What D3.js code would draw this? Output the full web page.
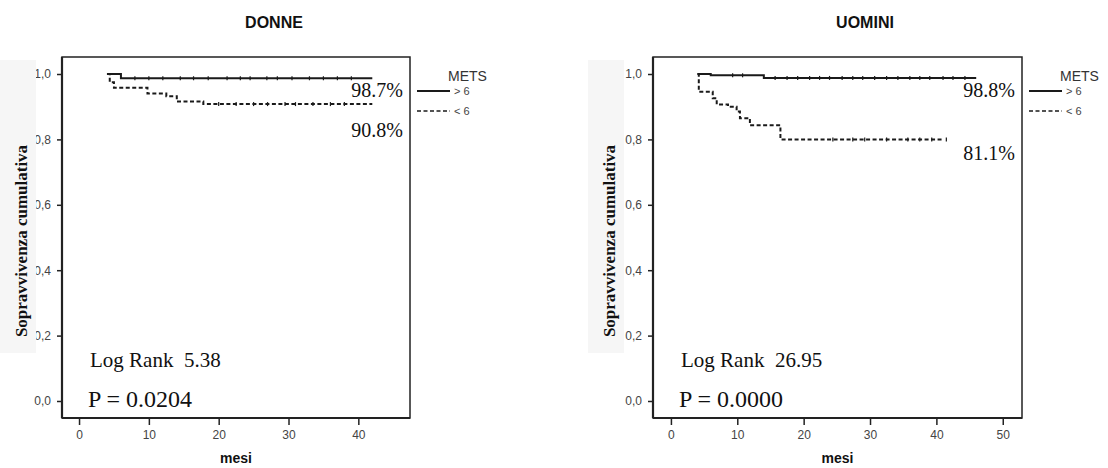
<!DOCTYPE html>
<html>
<head>
<meta charset="utf-8">
<script src="https://cdn.jsdelivr.net/npm/d3@7"></script>
<style>
  body { margin: 0; background: #fff; }
  svg { display: block; }
</style>
</head>
<body>
<svg id="chart" width="1108" height="468"></svg>
<script>
// --- dati ---
const yTicks = [0, 0.2, 0.4, 0.6, 0.8, 1.0];
const yTickLabels = ["0,0", "0,2", "0,4", "0,6", "0,8", "1,0"];
const xTicksDonne = [0, 10, 20, 30, 40];
const xTicksUomini = [0, 10, 20, 30, 40, 50];
const legendLabels = ["> 6", "< 6"];

// curve Kaplan-Meier [mesi, sopravvivenza]
const donneOver6 = [[4.0, 1.0], [6.0, 0.987], [42, 0.987]];
const donneUnder6 = [[4.0, 1.0], [4.4, 0.975], [5.0, 0.958], [9.8, 0.940], [12.5, 0.932],
  [14.0, 0.916], [17.8, 0.908], [42, 0.908]];
const uominiOver6 = [[4.0, 1.0], [6.0, 0.996], [14.0, 0.988], [46, 0.988]];
const uominiUnder6 = [[4.0, 1.0], [4.2, 0.946], [6.3, 0.926], [6.9, 0.907], [8.6, 0.900],
  [9.9, 0.885], [10.4, 0.865], [11.9, 0.843], [16.5, 0.800], [40.8, 0.800]];

// osservazioni censurate
const donneOver6Cens = [8, 10, 12, 14.5, 16.4, 18.5, 21.2, 23.1, 24.5, 26.9, 28.4, 30.5, 33, 35, 37, 39];
const donneUnder6Cens = [20, 22.5, 25, 27, 29.5, 31, 33.5, 36, 38];
const uominiOver6Cens = [9.3, 10.8, 15.7, 17.5, 19.1, 20.9, 22.4, 23.9, 25.8, 27.4, 28.9,
  30.7, 32.5, 34.2, 36.0, 37.5, 39.0, 41.0, 42.5, 44.3];
const uominiUnder6Cens = [24.4, 27.4, 29.2, 32.5, 35.7, 37.5, 39.3, 41.5];

const panels = [
  { title: "DONNE", xTicks: xTicksDonne, xDomain: [-2.44, 47.4], left: 62, right: 410,
    series: [donneOver6, donneUnder6], cens: [donneOver6Cens, donneUnder6Cens],
    pct: ["98.7%", "90.8%"], pctY: [97, 137], logRank: "Log Rank  5.38", p: "P = 0.0204",
    labelX: 20, rect: [0, 36] },
  { title: "UOMINI", xTicks: xTicksUomini, xDomain: [-2.7, 52.9], left: 653, right: 1022,
    series: [uominiOver6, uominiUnder6], cens: [uominiOver6Cens, uominiUnder6Cens],
    pct: ["98.8%", "81.1%"], pctY: [97, 160], logRank: "Log Rank  26.95", p: "P = 0.0000",
    labelX: 608, rect: [588, 624] }
];

const svg = d3.select("#chart");
const plotTop = 57, plotBottom = 418;
const serif = "'Liberation Serif', 'Times New Roman', serif";
const sans = "'Liberation Sans', Arial, sans-serif";
const dashes = [null, "4,2.5"];

panels.forEach(p => {
  const g = svg.append("g");
  const x = d3.scaleLinear().domain(p.xDomain).range([p.left, p.right]);
  const y = d3.scaleLinear().domain([-0.052, 1.052]).range([plotBottom, plotTop]);

  // titolo
  g.append("text")
    .attr("x", p.left + 212).attr("y", 28)
    .attr("text-anchor", "middle")
    .attr("font-family", sans).attr("font-weight", "bold").attr("font-size", 16)
    .attr("fill", "#111")
    .text(p.title);

  // cornice
  g.append("rect")
    .attr("x", p.left).attr("y", plotTop)
    .attr("width", p.right - p.left).attr("height", plotBottom - plotTop)
    .attr("fill", "none").attr("stroke", "#222").attr("stroke-width", 1.5);

  // assi
  const yAxis = d3.axisLeft(y).tickValues(yTicks).tickSize(5).tickPadding(6)
    .tickFormat((d, i) => yTickLabels[i]);
  const ya = g.append("g").attr("transform", `translate(${p.left},0)`).call(yAxis);
  const xAxis = d3.axisBottom(x).tickValues(p.xTicks).tickSize(7).tickPadding(5);
  const xa = g.append("g").attr("transform", `translate(0,${plotBottom})`).call(xAxis);
  [ya, xa].forEach(a => {
    a.select(".domain").attr("stroke", "#222").attr("stroke-width", 2.2);
    a.selectAll(".tick line").attr("stroke", "#222").attr("stroke-width", 1.5);
    a.selectAll(".tick text").attr("font-family", sans).attr("font-size", 12).attr("fill", "#444");
  });
  xa.select(".domain").attr("d", `M${p.left},0H${p.right}`);
  ya.select(".domain").attr("d", `M0,${plotTop}V${plotBottom}`);

  // sfondo etichetta asse Y (copre parte delle etichette nel pannello sinistro)
  g.append("rect")
    .attr("x", p.rect[0]).attr("y", 60)
    .attr("width", p.rect[1] - p.rect[0]).attr("height", 293)
    .attr("fill", "#f6f6f6");

  g.append("text")
    .attr("transform", `translate(${p.labelX + 7},241) rotate(-90)`)
    .attr("text-anchor", "middle")
    .attr("font-family", serif).attr("font-weight", "bold").attr("font-size", 17)
    .attr("fill", "#111")
    .text("Sopravvivenza cumulativa");

  g.append("text")
    .attr("x", (p.left + p.right) / 2).attr("y", 463)
    .attr("text-anchor", "middle")
    .attr("font-family", sans).attr("font-weight", "bold").attr("font-size", 14)
    .attr("fill", "#111")
    .text("mesi");

  // curve
  const line = d3.line().x(d => x(d[0])).y(d => y(d[1])).curve(d3.curveStepAfter);
  p.series.forEach((s, i) => {
    g.append("path")
      .attr("d", line(s))
      .attr("fill", "none")
      .attr("stroke", "#1a1a1a")
      .attr("stroke-width", 2)
      .attr("stroke-dasharray", dashes[i]);

    // valore della curva al tempo t
    const survAt = t => {
      let v = s[0][1];
      s.forEach(d => { if (d[0] <= t) v = d[1]; });
      return v;
    };
    g.selectAll(null)
      .data(p.cens[i])
      .join("line")
      .attr("x1", d => x(d)).attr("x2", d => x(d))
      .attr("y1", d => y(survAt(d)) - 2).attr("y2", d => y(survAt(d)) + 2)
      .attr("stroke", "#1a1a1a").attr("stroke-width", 1.2);
  });

  // percentuali
  g.selectAll(null)
    .data(p.pct)
    .join("text")
    .attr("x", p.right - 7)
    .attr("y", (d, i) => p.pctY[i])
    .attr("text-anchor", "end")
    .attr("font-family", serif).attr("font-size", 20)
    .attr("fill", "#111")
    .text(d => d);

  g.append("text")
    .attr("x", p.left + 28).attr("y", 367)
    .attr("font-family", serif).attr("font-size", 21).attr("fill", "#111")
    .style("white-space", "pre")
    .text(p.logRank);
  g.append("text")
    .attr("x", p.left + 26).attr("y", 407)
    .attr("font-family", serif).attr("font-size", 24).attr("fill", "#111")
    .text(p.p);

  // legenda
  const lx = p.right + 7;
  g.append("text")
    .attr("x", p.right + 38).attr("y", 81)
    .attr("font-family", sans).attr("font-size", 14).attr("fill", "#333")
    .text("METS");
  legendLabels.forEach((lab, i) => {
    const ly = 91 + i * 20;
    g.append("line")
      .attr("x1", lx).attr("x2", lx + 33)
      .attr("y1", ly).attr("y2", ly)
      .attr("stroke", "#1a1a1a").attr("stroke-width", i === 0 ? 2 : 1.6)
      .attr("stroke-dasharray", dashes[i]);
    g.append("text")
      .attr("x", lx + 37).attr("y", ly + 4)
      .attr("font-family", sans).attr("font-size", 11).attr("fill", "#444")
      .text(lab);
  });
});
</script>
</body>
</html>
